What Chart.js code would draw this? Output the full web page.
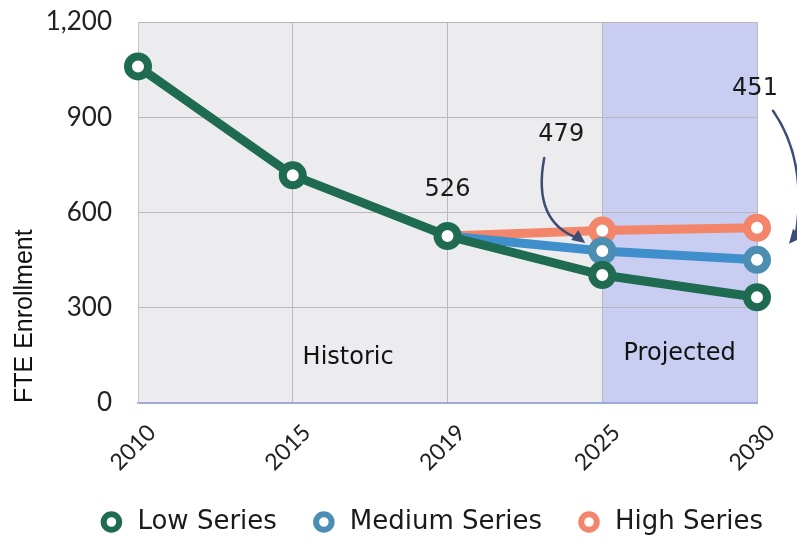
<!DOCTYPE html>
<html>
<head>
<meta charset="utf-8">
<script src="https://cdn.jsdelivr.net/npm/chart.js@4/dist/chart.umd.min.js"></script>
<style>
  html, body { margin: 0; padding: 0; background: #fff; }
  #wrap { width: 797px; height: 540px; }
</style>
</head>
<body>
<div id="wrap"><canvas id="enrollChart" width="797" height="540"></canvas></div>
<script>
// enrollment by year, three projection series
const years = ['2010', '2015', '2019', '2025', '2030'];
const lowSeries = [1060, 717, 526, 403, 333];
const mediumSeries = [null, null, 526, 479, 451];
const highSeries = [null, null, 526, 543, 552];
const yMax = 1200;
const yStep = 300;

const projectedFrom = 3; // index of 2025

const green = '#1e6b51';
const blue = '#3e8fcc';
const blueRing = '#4b8eb2';
const salmon = '#f3866a';

// plot background + shaded "Projected" zone
const backdrop = {
  id: 'backdrop',
  beforeDraw(chart) {
    const { ctx, chartArea: a, scales: { x } } = chart;
    ctx.save();
    ctx.fillStyle = '#ececef';
    ctx.fillRect(a.left, a.top, a.right - a.left, a.bottom - a.top);
    const x0 = x.getPixelForValue(projectedFrom);
    ctx.fillStyle = '#c9cdf1';
    ctx.fillRect(x0, a.top, a.right - x0, a.bottom - a.top);
    ctx.restore();
  }
};

// value callouts, arrows and the two section captions
const notes = {
  id: 'notes',
  afterDraw(chart) {
    const { ctx, chartArea: a, scales: { x, y } } = chart;
    ctx.save();
    ctx.fillStyle = '#1a1a1a';
    ctx.font = '24px "DejaVu Sans", sans-serif';
    ctx.textAlign = 'center';
    ctx.textBaseline = 'middle';

    // 2019 actual
    ctx.fillText(String(lowSeries[2]), x.getPixelForValue(2), y.getPixelForValue(lowSeries[2]) - 46);

    // medium 2025
    const m25x = x.getPixelForValue(3), m25y = y.getPixelForValue(mediumSeries[3]);
    ctx.fillText(String(mediumSeries[3]), m25x - 41, m25y - 116);
    // medium 2030
    const m30x = x.getPixelForValue(4), m30y = y.getPixelForValue(mediumSeries[4]);
    ctx.fillText(String(mediumSeries[4]), m30x - 2, m30y - 171);

    ctx.strokeStyle = '#3d4c77';
    ctx.fillStyle = '#3d4c77';
    ctx.lineWidth = 2.5;
    ctx.lineCap = 'round';

    // arrow to medium 2025
    let sx = m25x - 58, sy = m25y - 93;
    let ex = m25x - 19, ey = m25y - 8;
    ctx.beginPath();
    ctx.moveTo(sx, sy);
    ctx.quadraticCurveTo(sx - 12, ey - 22, ex - 6, ey - 5);
    ctx.stroke();
    ctx.beginPath();
    ctx.moveTo(ex + 2, ey);
    ctx.lineTo(ex - 12, ey - 3);
    ctx.lineTo(ex - 5, ey - 13);
    ctx.closePath();
    ctx.fill();

    // arrow to medium 2030 (runs off the right edge)
    sx = m30x + 16; sy = m30y - 149;
    ex = m30x + 32; ey = m30y - 16;
    ctx.beginPath();
    ctx.moveTo(sx, sy);
    ctx.quadraticCurveTo(m30x + 50, m30y - 100, m30x + 39, m30y - 26);
    ctx.stroke();
    ctx.beginPath();
    ctx.moveTo(ex, ey);
    ctx.lineTo(ex + 4, ey - 15);
    ctx.lineTo(ex + 13, ey - 6);
    ctx.closePath();
    ctx.fill();

    // section captions
    ctx.fillStyle = '#111';
    ctx.font = '24px "DejaVu Sans", sans-serif';
    const hx = (x.getPixelForValue(1) + x.getPixelForValue(2)) / 2;
    ctx.fillText('Historic', hx - 22, a.bottom - 45);
    const px = (x.getPixelForValue(3) + x.getPixelForValue(4)) / 2;
    ctx.fillText('Projected', px, a.bottom - 49);
    ctx.restore();
  }
};

function series(label, data, line, ring, hideFirst) {
  return {
    label: label,
    data: data,
    borderColor: line,
    backgroundColor: '#fff',
    borderWidth: 9,
    pointBorderColor: ring,
    pointBackgroundColor: '#fff',
    pointBorderWidth: 8,
    pointRadius: data.map((v, i) => (hideFirst && i === 2) ? 0 : 10),
    pointHoverRadius: 10,
    tension: 0,
    spanGaps: false
  };
}

const ctx = document.getElementById('enrollChart').getContext('2d');
new Chart(ctx, {
  type: 'line',
  data: {
    labels: years,
    datasets: [
      series('Low Series', lowSeries, green, green, false),
      series('Medium Series', mediumSeries, blue, blueRing, true),
      series('High Series', highSeries, salmon, salmon, true)
    ]
  },
  plugins: [backdrop, notes],
  options: {
    responsive: false,
    animation: false,
    layout: { padding: { top: 22, right: 0, bottom: -5, left: 6 } },
    scales: {
      x: {
        offset: false,
        grid: { color: '#b9b9bd', lineWidth: 1, drawTicks: false },
        border: { color: '#9eaad8', width: 2 },
        ticks: {
          color: '#222',
          font: { family: 'Lato, "DejaVu Sans", sans-serif', size: 23 },
          maxRotation: 45,
          minRotation: 45,
          labelOffset: 14,
          padding: 16
        },
        afterFit(scale) {
          scale.height = 72;
          scale.paddingTop = 0;
          scale.paddingRight = 40;
        }
      },
      y: {
        min: 0,
        max: yMax,
        grid: { color: '#b9b9bd', lineWidth: 1, drawTicks: false },
        border: { color: '#c4c4c8' },
        ticks: {
          stepSize: yStep,
          color: '#222',
          padding: 26,
          font: { family: 'Lato, "DejaVu Sans", sans-serif', size: 26 }
        },
        title: {
          display: true,
          text: 'FTE Enrollment',
          align: 'start',
          color: '#111',
          font: { family: '"Liberation Sans", Arial, sans-serif', size: 25 },
          padding: { top: 4, bottom: 0 }
        },
        afterFit(scale) {
          scale.width = 132;
          scale.paddingTop = 0;
          scale.paddingBottom = 0;
        }
      }
    },
    plugins: {
      tooltip: { enabled: false },
      legend: {
        position: 'bottom',
        align: 'end',
        labels: {
          usePointStyle: true,
          pointStyle: 'circle',
          boxHeight: 11,
          padding: 34,
          color: '#1a1a1a',
          font: { family: '"DejaVu Sans", sans-serif', size: 26 },
          generateLabels(chart) {
            const items = Chart.defaults.plugins.legend.labels.generateLabels(chart);
            return items.map(it => {
              const ds = chart.data.datasets[it.datasetIndex];
              it.pointStyle = 'circle';
              it.strokeStyle = ds.pointBorderColor;
              it.fillStyle = '#fff';
              it.lineWidth = 6;
              return it;
            });
          }
        }
      }
    }
  }
});
</script>
</body>
</html>
